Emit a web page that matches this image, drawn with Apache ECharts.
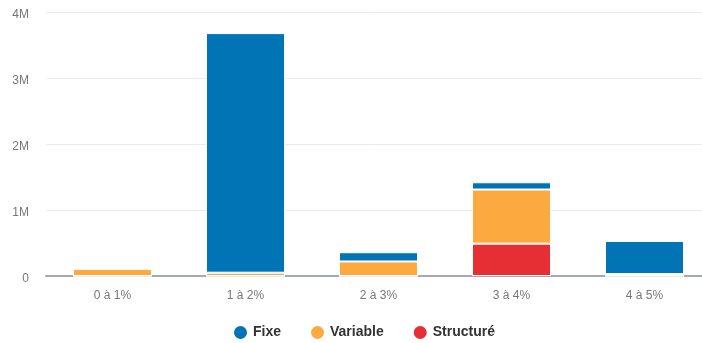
<!DOCTYPE html>
<html>
<head>
<meta charset="utf-8">
<script src="https://cdn.jsdelivr.net/npm/echarts@6/dist/echarts.min.js"></script>
<style>
  html, body { margin: 0; padding: 0; background: #fff; }
  #chart { width: 702px; height: 343px; }
</style>
</head>
<body>
<div id="chart"></div>
<script>
// Volumes par tranche de taux, par type de taux
const categories = ['0 à 1%', '1 à 2%', '2 à 3%', '3 à 4%', '4 à 5%'];
const structure = [0, 0, 0, 490000, 0];
const variable = [110000, 50000, 220000, 820000, 30000];
const fixe = [0, 3630000, 140000, 110000, 500000];
const yTicks = [0, 1000000, 2000000, 3000000, 4000000];

const colors = { fixe: '#0074b4', variable: '#fca940', structure: '#e52f35' };
const font = 'Arial, Liberation Sans, sans-serif';

const chart = echarts.init(document.getElementById('chart'));

function barSeries(name, data, color) {
  return {
    name: name,
    type: 'bar',
    stack: 'total',
    data: data,
    barWidth: 79,
    itemStyle: { color: color, borderColor: '#ffffff', borderWidth: 1 },
    emphasis: { disabled: true }
  };
}

chart.setOption({
  animation: false,
  grid: { left: 46, top: 12, width: 665, height: 264, outerBoundsMode: 'none' },
  legend: {
    left: 227,
    top: 319,
    icon: 'circle',
    itemWidth: 15,
    itemHeight: 15,
    itemGap: 28,
    textStyle: { fontFamily: font, fontSize: 14, fontWeight: 'bold', color: '#333' },
    data: ['Fixe', 'Variable', 'Structuré']
  },
  xAxis: {
    type: 'category',
    data: categories,
    axisTick: { show: false },
    axisLine: { lineStyle: { color: '#a5a9b6', width: 2 } },
    axisLabel: { margin: 14, color: '#777', fontSize: 12, fontFamily: font }
  },
  yAxis: {
    type: 'value',
    min: yTicks[0],
    max: yTicks[yTicks.length - 1],
    interval: yTicks[1] - yTicks[0],
    axisLine: { show: false },
    axisTick: { show: false },
    splitLine: { lineStyle: { color: '#ebebeb', width: 1 } },
    axisLabel: {
      margin: 17,
      formatter: v => '{t|' + (v === 0 ? '0' : (v / 1000000) + 'M') + '}',
      rich: {
        t: { color: '#777', fontSize: 12, fontFamily: font, padding: [6, 0, 0, 0] }
      }
    }
  },
  series: [
    barSeries('Structuré', structure, colors.structure),
    barSeries('Variable', variable, colors.variable),
    barSeries('Fixe', fixe, colors.fixe)
  ]
});
</script>
</body>
</html>
